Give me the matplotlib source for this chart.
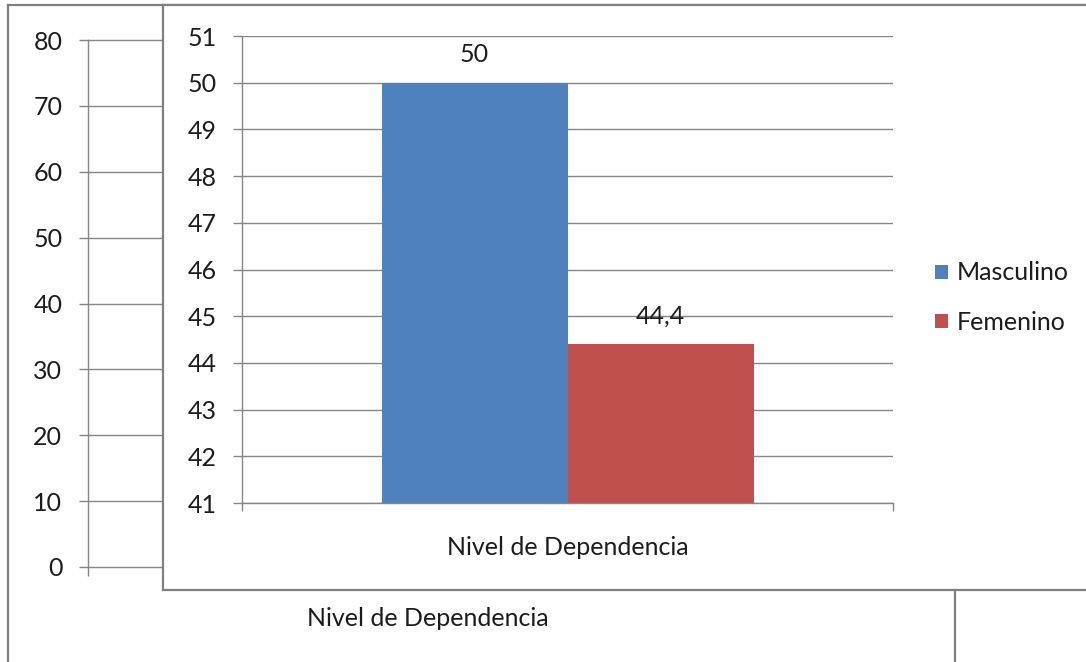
import matplotlib
matplotlib.use("Agg")
import matplotlib.pyplot as plt
from matplotlib.patches import Patch
from matplotlib.lines import Line2D

plt.rcParams['font.family'] = ['Lato', 'DejaVu Sans']

# Data
category = "Nivel de Dependencia"
series = ["Masculino", "Femenino"]
values = [50.0, 44.4]
value_labels = ["50", "44,4"]
colors = ["#4F81BD", "#C0504D"]

outer_ticks = [0, 10, 20, 30, 40, 50, 60, 70, 80]
inner_ticks = [41, 42, 43, 44, 45, 46, 47, 48, 49, 50, 51]

W, H = 1086, 662
GRID = "#868686"
EDGE = "#808080"
TXT = "#1c1c1c"
FS = 18

fig = plt.figure(figsize=(W / 100, H / 100), dpi=100)


def box(left, top, right, bottom):
    """Axes rectangle from pixel edges (origin at top-left)."""
    return [left / W, 1 - bottom / H, (right - left) / W, (bottom - top) / H]


# Outer frame of the sheet
frame = fig.add_axes(box(8, 5, W + 20, H + 20), zorder=-2)
frame.set_xticks([])
frame.set_yticks([])
for side, sp in frame.spines.items():
    sp.set_color(EDGE)
    sp.set_linewidth(1.6)

# Background chart, scale 0-80
outer = fig.add_axes(box(88, 40, 768, 567), zorder=-1)
outer.set_ylim(0, 80)
outer.set_xlim(-0.5, 0.5)
outer.set_yticks(outer_ticks)
outer.set_yticklabels([str(t) for t in outer_ticks])
outer.set_xticks([0])
outer.set_xticklabels([category])
outer.set_xticks([-0.5], minor=True)
outer.tick_params(axis='x', which='major', length=0, pad=29, labelsize=FS, labelcolor=TXT)
outer.tick_params(axis='x', which='minor', length=6.5, width=1, color=GRID, direction='out')
outer.tick_params(axis='y', length=6.5, width=1, color=GRID, pad=12, labelsize=FS, labelcolor=TXT)
outer.grid(axis='y', color=GRID, linewidth=1)
for gl in outer.get_ygridlines():
    gl.set_clip_on(False)
for side in ['top', 'right', 'bottom']:
    outer.spines[side].set_visible(False)
outer.spines['left'].set_color(GRID)
outer.spines['left'].set_linewidth(1)
outer.set_facecolor('none')
outer.set_axisbelow(True)

# White panel holding the main chart
panel = fig.add_axes(box(163, 5, W + 20, 590), zorder=0)
panel.set_facecolor('white')
panel.set_xticks([])
panel.set_yticks([])
for side, sp in panel.spines.items():
    sp.set_color(EDGE)
    sp.set_linewidth(1.6)

# Main chart, scale 41-51
ax = fig.add_axes(box(242, 36, 893, 503), zorder=1)
ax.set_facecolor('none')
ax.set_xlim(-0.5, 0.5)
ax.set_ylim(41, 51)
bar_w = 186 / 651
offsets = [-bar_w / 2, bar_w / 2]
for name, v, lab, c, off in zip(series, values, value_labels, colors, offsets):
    ax.bar(off, v - 41, bottom=41, width=bar_w, color=c, label=name, zorder=2)
    ax.annotate(lab, xy=(off, v), xytext=(0, 20), textcoords='offset points',
                ha='center', va='center', fontsize=FS, color=TXT)

ax.set_yticks(inner_ticks)
ax.set_yticklabels([str(t) for t in inner_ticks])
ax.set_xticks([0])
ax.set_xticklabels([category])
ax.set_xticks([-0.5, 0.5], minor=True)
ax.tick_params(axis='x', which='major', length=0, pad=24, labelsize=FS, labelcolor=TXT)
ax.tick_params(axis='x', which='minor', length=5.5, width=1, color=GRID, direction='out')
ax.tick_params(axis='y', length=6.5, width=1, color=GRID, pad=11.5, labelsize=FS, labelcolor=TXT)
ax.grid(axis='y', color=GRID, linewidth=1, zorder=0)
ax.set_axisbelow(True)
for side in ['top', 'right']:
    ax.spines[side].set_visible(False)
for side in ['left', 'bottom']:
    ax.spines[side].set_color(GRID)
    ax.spines[side].set_linewidth(1)

handles = [Patch(facecolor=c, edgecolor='none') for c in colors]
fig.legend(handles, series, loc='center left',
           bbox_to_anchor=(935 / W, 1 - 297.5 / H),
           frameon=False, fontsize=FS, labelcolor=TXT,
           borderpad=0, borderaxespad=0, labelspacing=1.04,
           handlelength=0.52, handleheight=0.5, handletextpad=0.36)

# Divider under the panel
fig.add_artist(Line2D([955 / W, 955 / W], [0, 1 - 590 / H],
                      transform=fig.transFigure, color=EDGE, linewidth=1.6))

fig.savefig("out.png", dpi=100, facecolor='white')
